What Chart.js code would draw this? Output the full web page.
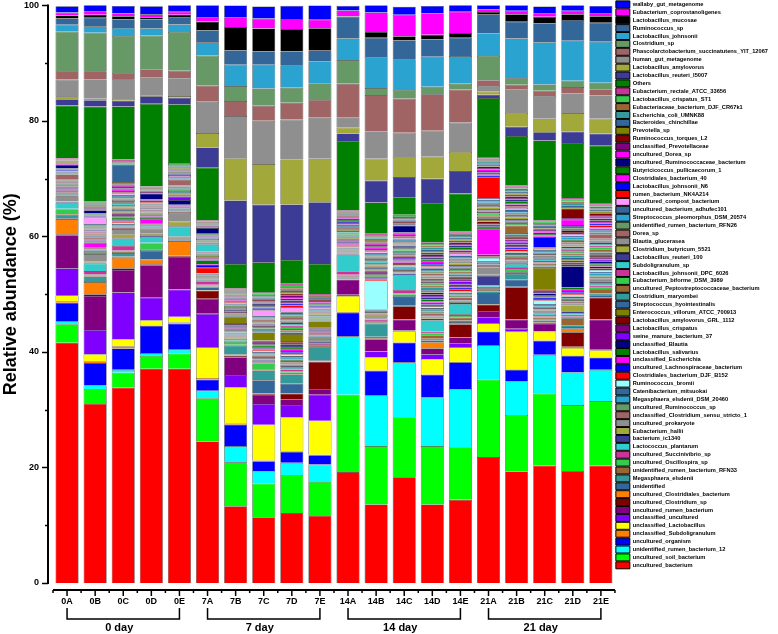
<!DOCTYPE html>
<html>
<head>
<meta charset="utf-8">
<script src="https://cdn.jsdelivr.net/npm/chart.js@4.4.1/dist/chart.umd.min.js"></script>
<style>
  html, body { margin: 0; padding: 0; background: #fff; }
  #wrap { width: 778px; height: 634px; }
</style>
</head>
<body>
<div id="wrap"><canvas id="abundance" width="778" height="634"></canvas></div>
<script>
// samples and groups
const samples = ["0A","0B","0C","0D","0E","7A","7B","7C","7D","7E","14A","14B","14C","14D","14E","21A","21B","21C","21D","21E"];
const dayGroups = ["0 day", "7 day", "14 day", "21 day"];
const yTicks = [0, 20, 40, 60, 80, 100];

// relative abundance (%) per taxon, bottom of the stack first
const uncultured_bacterium = [41.6,31.0,33.8,37.1,37.1,24.5,13.3,11.4,12.1,11.6,19.2,13.6,18.3,13.6,14.4,21.8,19.3,20.3,19.4,20.3];
const uncultured_soil_bacterium = [3.2,2.6,2.6,2.2,2.6,7.5,7.6,5.8,6.6,5.9,13.4,10.1,10.4,10.1,9.1,13.4,9.8,12.5,11.4,11.2];
const unidentified_rumen_bacterium_12 = [0.5,0.6,0.5,0.5,0.7,1.3,2.8,2.2,2.1,3.0,10.1,8.8,9.5,8.4,10.1,6.0,5.8,6.7,5.7,5.4];
const uncultured_organism = [3.2,3.9,3.7,4.7,4.5,1.9,3.7,1.7,1.9,1.6,4.1,4.2,3.4,3.9,4.6,2.3,2.0,2.4,2.8,2.1];
const unclassified_Subdoligranulum = [0.3,0.3,0.4,0.1,0.2,0.3,0.2,0.1,0.1,0.1,0.1,0.1,0.1,0.1,0.1,0.1,0.1,0.1,0.1,0.1];
const unclassified_Lactobacillus = [1.0,1.2,1.2,0.9,1.0,5.3,6.3,6.2,5.9,5.9,2.8,2.3,1.9,2.7,2.5,1.4,6.5,1.5,1.3,1.2];
const unclassified_uncultured = [4.7,4.2,8.1,3.9,4.7,5.8,2.1,3.6,2.1,4.5,0.2,1.0,0.1,0.8,0.7,1.0,0.5,0.1,0.1,0.1];
const uncultured_rumen_bacterium = [5.7,5.9,3.9,5.6,5.7,2.6,3.1,1.6,1.0,1.0,2.6,2.1,1.9,1.0,1.0,1.1,1.6,1.3,0.1,5.2];
const uncultured_Clostridium_sp = [0.2,0.3,0.3,0.2,0.2,1.4,0.2,0.2,1.0,4.7,0.1,0.1,2.3,0.1,2.3,1.1,5.6,0.2,2.5,3.8];
const uncultured_Clostridiales_bacterium = [2.6,2.1,1.8,0.8,2.5,0.1,0.1,0.1,0.1,0.1,0.1,0.1,0.1,1.0,0.1,0.1,0.1,0.1,0.6,0.1];
const unidentified = [0.13,0.17,0.22,1.5,0.16,0.5,0.18,2.2,1.6,0.17,0.17,0.22,1.5,0.30,0.28,1.9,1.2,0.24,0.31,0.30];
const Megasphaera_elsdenii = [0.6,0.8,0.6,0.14,0.16,0.15,1.5,1.7,1.6,2.3,0.17,2.3,0.21,0.30,0.28,0.27,1.0,0.24,0.31,0.30];
const unidentified_rumen_bacterium_RFN33 = [0.13,0.17,0.22,0.14,0.16,0.15,0.18,0.22,0.29,0.17,0.17,0.22,0.21,0.6,0.5,0.27,0.28,0.24,1.2,0.8];
const uncultured_Oscillospira_sp = [0.8,0.17,0.22,1.0,0.16,0.15,0.5,1.0,0.29,0.17,0.17,0.22,0.21,0.30,0.28,0.27,0.6,0.24,0.31,0.30];
const uncultured_Succinivibrio_sp = [0.13,0.6,0.8,0.14,0.16,0.6,0.18,0.22,0.29,0.17,0.6,0.22,0.6,0.30,0.28,0.27,0.28,0.24,0.31,0.30];
const Lactococcus_plantarum = [1.0,1.3,1.3,1.0,1.6,0.15,0.18,0.22,0.29,0.17,2.9,0.22,2.6,2.0,1.8,0.27,0.6,0.24,0.31,0.30];
const bacterium_ic1340 = [0.13,0.17,0.22,0.14,0.16,0.15,0.18,0.22,0.29,0.17,0.17,0.22,0.21,0.30,0.28,1.6,0.28,0.24,0.31,0.30];
const Eubacterium_hallii = [0.13,0.17,0.5,0.4,0.8,0.15,0.18,0.22,0.29,0.17,0.17,0.22,0.21,0.30,0.28,0.27,0.28,0.24,1.0,0.30];
const uncultured_prokaryote = [0.9,1.3,0.9,0.9,1.5,0.15,0.18,0.22,0.29,0.17,0.17,0.22,0.21,0.30,0.28,1.2,0.28,0.24,0.31,0.30];
const unclassified_Clostridium_sensu_stricto_1 = [0.13,0.17,0.22,0.14,0.16,0.15,0.18,0.22,0.29,0.17,0.17,0.22,0.21,0.30,0.28,0.27,0.28,0.24,0.31,0.30];
const uncultured_Ruminococcus_sp = [0.13,0.17,0.22,0.14,0.16,0.15,0.18,0.22,0.29,0.17,0.17,0.22,0.21,0.30,0.28,0.27,0.28,0.24,0.31,0.30];
const Megasphaera_elsdenii_DSM_20460 = [0.13,0.17,0.22,0.14,0.16,0.15,0.18,0.22,0.29,0.17,0.17,0.22,0.21,0.30,0.28,0.27,0.28,0.24,0.31,0.30];
const Catenibacterium_mitsuokai = [0.13,0.17,0.22,0.14,0.16,0.15,0.18,0.22,0.29,0.17,0.17,0.22,0.21,0.30,0.28,0.27,0.28,0.24,0.31,0.30];
const Ruminococcus_bromii = [0.13,0.17,0.22,0.14,0.16,0.15,0.18,0.22,0.29,0.17,0.17,5.0,0.21,0.30,0.28,0.6,0.28,0.6,0.31,0.30];
const Clostridiales_bacterium_DJF_B152 = [0.13,0.17,0.22,0.14,0.16,1.0,0.18,0.22,0.29,0.17,0.17,0.22,0.21,0.30,0.28,0.27,0.28,0.24,0.31,0.30];
const uncultured_Lachnospiraceae_bacterium = [0.13,0.17,0.22,0.14,0.16,0.5,0.18,0.22,0.29,0.17,0.17,0.22,0.21,0.30,0.28,0.27,0.28,0.24,0.31,0.30];
const unclassified_Escherichia = [0.13,0.8,0.22,0.7,0.16,0.15,0.18,0.22,0.29,0.17,0.17,0.22,0.21,0.30,0.28,4.4,0.28,0.24,0.31,0.30];
const Lactobacillus_salivarius = [0.13,0.17,0.22,0.14,0.16,0.6,0.18,0.22,0.29,0.17,0.17,0.22,0.21,0.30,0.28,0.27,0.28,0.24,0.31,0.30];
const unclassified_Blautia = [0.13,0.17,0.22,0.14,0.8,0.15,0.18,0.22,0.29,0.17,0.17,0.22,0.21,0.30,0.28,0.27,0.28,0.24,3.7,0.30];
const swine_manure_bacterium_37 = [0.13,0.17,0.22,0.14,0.6,0.15,0.18,0.22,0.29,0.17,0.17,0.22,0.21,0.30,0.28,0.27,0.28,0.24,0.31,0.30];
const Lactobacillus_crispatus = [0.13,0.17,0.22,0.14,0.16,0.15,0.18,0.22,0.29,0.17,0.17,0.22,0.21,0.30,0.28,0.27,0.28,0.24,0.31,0.30];
const Lactobacillus_amylovorus_GRL_1112 = [0.13,0.17,0.22,0.14,0.16,0.15,0.18,0.22,0.29,0.17,0.17,0.22,0.21,0.30,0.28,0.27,0.28,0.24,0.31,0.30];
const Enterococcus_villorum_ATCC_700913 = [0.13,0.17,0.22,0.14,0.16,0.15,1.0,1.4,1.2,1.0,0.17,0.22,0.21,0.30,0.28,0.27,0.28,3.7,0.31,0.30];
const Streptococcus_hyointestinalis = [0.13,0.17,0.22,0.14,0.16,0.15,0.18,0.22,0.29,0.17,0.17,0.22,0.21,0.30,0.28,0.27,0.28,0.24,0.31,0.30];
const Clostridium_maryombei = [0.13,0.17,0.22,0.14,0.16,0.15,0.18,0.22,0.29,0.17,0.17,0.22,0.21,0.30,0.28,0.27,0.28,0.24,0.31,0.30];
const uncultured_Peptostreptococcaceae_bacterium = [0.13,0.17,0.22,0.14,0.16,0.15,0.18,0.22,0.29,0.17,0.17,0.22,0.21,0.30,0.28,0.27,1.3,0.24,0.31,0.30];
const Eubacterium_biforme_DSM_3989 = [0.13,0.17,0.22,0.14,0.16,0.15,0.18,0.22,0.29,0.17,0.17,0.22,0.21,0.30,0.28,0.27,0.28,0.24,0.31,0.30];
const Lactobacillus_johnsonii_DPC_6026 = [0.13,0.17,0.22,0.14,0.16,0.15,0.18,0.22,0.29,0.17,0.17,0.22,0.21,0.30,0.28,0.27,0.28,0.24,0.31,0.30];
const Subdoligranulum_sp = [0.13,0.17,0.22,0.14,0.16,1.3,0.18,0.22,0.29,0.17,0.17,0.22,0.21,0.30,0.28,0.27,0.28,0.24,0.31,0.30];
const Lactobacillus_reuteri_100 = [0.13,0.17,0.22,0.14,0.16,0.15,0.18,0.22,0.29,0.17,0.17,0.22,0.21,0.30,0.28,0.27,0.28,0.24,0.31,0.30];
const Clostridium_butyricum_5521 = [0.13,0.17,0.22,0.14,0.16,0.15,0.18,0.22,0.29,0.17,0.17,0.22,0.21,0.30,0.28,0.27,0.28,0.24,0.31,0.30];
const Blautia_glucerasea = [0.13,0.17,0.22,0.14,0.16,0.15,0.18,0.22,0.29,0.17,0.17,0.22,0.21,0.30,0.28,0.27,0.28,0.24,0.31,0.30];
const Dorea_sp = [0.8,0.17,0.22,0.14,1.0,0.15,0.18,0.22,0.29,0.17,0.17,0.22,0.21,0.30,0.28,0.27,0.28,0.24,0.31,0.8];
const unidentified_rumen_bacterium_RFN26 = [0.13,0.17,0.22,0.14,0.16,0.15,0.18,0.22,0.29,0.17,0.17,0.22,0.21,0.30,0.28,0.27,0.28,0.24,0.31,0.30];
const Streptococcus_pleomorphus_DSM_20574 = [0.13,0.17,0.22,0.14,0.16,0.15,0.18,0.22,0.29,0.17,0.17,0.22,0.21,0.30,0.28,0.27,0.28,0.24,0.31,0.30];
const uncultured_bacterium_adhufec101 = [0.13,0.17,0.22,0.14,0.16,0.15,0.18,0.22,0.29,0.17,0.17,0.22,0.21,0.30,0.28,0.27,0.28,0.24,0.31,0.30];
const uncultured_compost_bacterium = [0.13,1.1,0.22,0.14,0.16,0.15,0.18,1.0,0.9,0.17,0.17,0.22,0.21,0.30,0.28,0.27,0.28,0.24,0.31,0.30];
const rumen_bacterium_NK4A214 = [0.13,0.17,0.22,0.14,0.16,0.15,0.18,0.22,0.29,0.17,0.17,0.22,0.21,0.30,0.28,3.6,0.28,0.24,0.31,0.30];
const Lactobacillus_johnsonii_N6 = [0.13,0.17,0.22,0.14,0.16,0.15,0.18,0.22,0.29,0.17,0.17,0.22,0.21,0.30,0.28,0.27,0.28,1.8,0.31,0.30];
const Clostridiales_bacterium_40 = [0.13,0.17,0.22,0.14,0.16,0.15,0.18,0.22,0.29,0.17,0.17,0.22,0.21,0.30,0.28,0.27,0.28,0.24,0.31,0.30];
const Butyricicoccus_pullicaecorum_1 = [0.13,0.17,0.22,0.14,0.16,0.15,0.18,0.22,0.29,0.17,0.17,0.22,0.21,0.30,0.28,0.27,0.28,0.24,0.31,0.30];
const uncultured_Ruminococcaceae_bacterium = [0.6,0.6,0.22,1.0,0.16,1.0,0.18,0.22,0.29,0.17,0.17,0.22,1.2,0.30,0.28,0.27,0.28,0.24,0.31,0.30];
const uncultured_Dorea_sp = [0.13,0.17,0.22,0.14,0.16,0.15,0.18,0.22,0.29,0.17,0.17,0.22,0.21,0.30,0.28,0.27,0.28,0.24,0.9,0.30];
const unclassified_Prevotellaceae = [0.13,0.17,0.22,0.14,0.16,0.15,0.18,0.22,0.29,0.17,0.17,0.22,0.21,0.30,0.28,0.27,0.28,0.24,0.31,0.30];
const Ruminococcus_torques_L2 = [0.13,0.17,0.22,0.14,0.16,0.15,0.18,0.22,0.29,0.17,0.17,0.22,0.21,0.30,0.28,0.27,0.28,0.24,1.6,0.30];
const Prevotella_sp = [0.13,0.17,0.22,0.14,0.16,0.15,0.18,0.22,0.29,0.17,0.17,0.22,0.21,0.30,0.28,0.27,0.28,0.24,0.31,0.30];
const Bacteroides_chinchillae = [0.13,0.17,3.0,0.14,0.16,0.15,0.18,0.22,0.29,0.17,0.17,0.22,0.21,0.30,0.28,0.27,0.28,0.24,0.31,0.30];
const Escherichia_coli_UMNK88 = [0.13,0.17,0.22,0.14,0.16,0.15,0.18,0.22,0.29,0.17,0.17,0.22,0.21,0.30,0.28,0.27,0.28,0.24,0.31,0.30];
const Eubacteriaceae_bacterium_DJF_CR67k1 = [0.13,0.17,0.22,0.14,0.16,0.15,0.18,0.22,0.29,0.17,0.17,0.22,0.21,0.30,0.28,0.27,0.28,0.24,0.31,0.30];
const Lactobacillus_crispatus_ST1 = [0.13,0.17,0.22,0.14,0.16,0.15,0.18,0.22,0.29,0.17,0.17,0.22,0.21,0.30,0.28,0.27,0.28,0.24,0.31,0.30];
const Eubacterium_rectale_ATCC_33656 = [0.13,0.17,0.22,0.14,0.16,0.15,0.18,0.22,0.29,0.17,0.17,0.22,0.21,0.30,0.28,0.27,0.28,0.24,0.31,0.30];
const Others = [9.1,16.4,9.2,14.3,10.2,9.1,4.2,5.2,4.1,5.2,12.0,5.4,3.0,6.8,6.5,10.2,8.5,13.8,9.5,9.9];
const Lactobacillus_reuteri_I5007 = [1.1,1.1,1.0,1.3,1.1,3.5,11.0,10.0,9.6,10.7,1.3,3.8,3.5,4.2,3.9,0.6,1.6,1.4,2.0,2.1];
const Lactobacillus_amylovorus = [0.5,0.3,0.3,0.2,0.3,2.5,7.3,7.0,7.8,7.5,1.0,3.8,3.5,3.8,3.3,0.5,2.4,2.4,3.2,2.6];
const human_gut_metagenome = [2.9,3.3,3.4,3.1,3.1,5.4,7.3,7.5,6.9,7.1,1.7,4.7,4.2,4.5,5.1,1.0,4.1,3.9,3.4,4.0];
const Phascolarctobacterium_succinatutens = [1.5,1.4,1.1,1.4,1.3,2.8,2.6,2.6,2.9,3.1,5.9,6.3,5.9,6.3,5.7,1.0,0.8,0.9,1.1,1.1];
const Clostridium_sp = [6.8,6.7,6.4,5.8,6.7,5.2,2.6,3.0,2.6,2.9,4.1,1.2,1.5,1.3,1.0,4.2,1.1,1.1,1.1,1.1];
const Lactobacillus_johnsonii = [1.2,1.1,1.4,1.3,1.3,2.3,3.7,4.1,3.9,3.8,3.8,5.4,5.3,5.2,4.8,3.9,6.9,7.3,6.9,7.1];
const Ruminococcus_sp = [1.1,1.5,1.5,1.5,1.3,2.1,2.5,2.3,2.4,1.9,3.7,3.3,3.3,3.0,3.2,3.3,2.9,3.3,3.6,3.3];
const Lactobacillus_mucosae = [0.5,0.5,0.5,0.4,0.4,1.5,4.0,4.0,3.9,3.8,0.1,1.0,0.7,0.8,0.8,0.4,1.3,1.1,1.0,1.1];
const Eubacterium_coprostanoligenes = [0.5,0.6,0.5,0.5,0.5,0.8,1.7,1.7,1.7,1.5,1.0,3.4,3.7,3.7,3.7,0.5,0.6,0.6,0.6,0.6];
const wallaby_gut_metagenome = [1.1,1.2,1.3,1.4,1.2,2.1,2.1,2.1,2.3,2.5,0.8,1.3,1.4,1.3,1.3,0.7,1.0,1.2,1.0,1.2];

// stack order (bottom -> top): [legend label, values, fill colour]
const stack = [
  ["uncultured_bacterium", uncultured_bacterium, "#ff0000"],
  ["uncultured_soil_bacterium", uncultured_soil_bacterium, "#00ff00"],
  ["unidentified_rumen_bacterium_12", unidentified_rumen_bacterium_12, "#00ffff"],
  ["uncultured_organism", uncultured_organism, "#0000ff"],
  ["unclassified_Subdoligranulum", unclassified_Subdoligranulum, "#ff8000"],
  ["unclassified_Lactobacillus", unclassified_Lactobacillus, "#ffff00"],
  ["unclassified_uncultured", unclassified_uncultured, "#8000ff"],
  ["uncultured_rumen_bacterium", uncultured_rumen_bacterium, "#800080"],
  ["uncultured_Clostridium_sp", uncultured_Clostridium_sp, "#800000"],
  ["uncultured_Clostridiales_bacterium", uncultured_Clostridiales_bacterium, "#ff8000"],
  ["unidentified", unidentified, "#336699"],
  ["Megasphaera_elsdenii", Megasphaera_elsdenii, "#339999"],
  ["unidentified_rumen_bacterium_RFN33", unidentified_rumen_bacterium_RFN33, "#996633"],
  ["uncultured_Oscillospira_sp", uncultured_Oscillospira_sp, "#33cc4c"],
  ["uncultured_Succinivibrio_sp", uncultured_Succinivibrio_sp, "#cc3399"],
  ["Lactococcus_plantarum", Lactococcus_plantarum, "#33cccc"],
  ["bacterium_ic1340", bacterium_ic1340, "#3c3c96"],
  ["Eubacterium_hallii", Eubacterium_hallii, "#a3a83a"],
  ["uncultured_prokaryote", uncultured_prokaryote, "#8f8f8f"],
  ["unclassified_Clostridium_sensu_stricto_1", unclassified_Clostridium_sensu_stricto_1, "#a06464"],
  ["uncultured_Ruminococcus_sp", uncultured_Ruminococcus_sp, "#669966"],
  ["Megasphaera_elsdenii_DSM_20460", Megasphaera_elsdenii_DSM_20460, "#2ba3d1"],
  ["Catenibacterium_mitsuokai", Catenibacterium_mitsuokai, "#336699"],
  ["Ruminococcus_bromii", Ruminococcus_bromii, "#99ffff"],
  ["Clostridiales_bacterium_DJF_B152", Clostridiales_bacterium_DJF_B152, "#ff0000"],
  ["uncultured_Lachnospiraceae_bacterium", uncultured_Lachnospiraceae_bacterium, "#0000ff"],
  ["unclassified_Escherichia", unclassified_Escherichia, "#ff00ff"],
  ["Lactobacillus_salivarius", Lactobacillus_salivarius, "#008000"],
  ["unclassified_Blautia", unclassified_Blautia, "#000080"],
  ["swine_manure_bacterium_37", swine_manure_bacterium_37, "#8000ff"],
  ["Lactobacillus_crispatus", Lactobacillus_crispatus, "#800080"],
  ["Lactobacillus_amylovorus_GRL_1112", Lactobacillus_amylovorus_GRL_1112, "#800000"],
  ["Enterococcus_villorum_ATCC_700913", Enterococcus_villorum_ATCC_700913, "#808000"],
  ["Streptococcus_hyointestinalis", Streptococcus_hyointestinalis, "#336699"],
  ["Clostridium_maryombei", Clostridium_maryombei, "#339999"],
  ["uncultured_Peptostreptococcaceae_bacterium", uncultured_Peptostreptococcaceae_bacterium, "#996633"],
  ["Eubacterium_biforme_DSM_3989", Eubacterium_biforme_DSM_3989, "#33cc4c"],
  ["Lactobacillus_johnsonii_DPC_6026", Lactobacillus_johnsonii_DPC_6026, "#cc3399"],
  ["Subdoligranulum_sp", Subdoligranulum_sp, "#33cccc"],
  ["Lactobacillus_reuteri_100", Lactobacillus_reuteri_100, "#3c3c96"],
  ["Clostridium_butyricum_5521", Clostridium_butyricum_5521, "#a3a83a"],
  ["Blautia_glucerasea", Blautia_glucerasea, "#8f8f8f"],
  ["Dorea_sp", Dorea_sp, "#a06464"],
  ["unidentified_rumen_bacterium_RFN26", unidentified_rumen_bacterium_RFN26, "#669966"],
  ["Streptococcus_pleomorphus_DSM_20574", Streptococcus_pleomorphus_DSM_20574, "#2ba3d1"],
  ["uncultured_bacterium_adhufec101", uncultured_bacterium_adhufec101, "#336699"],
  ["uncultured_compost_bacterium", uncultured_compost_bacterium, "#ff99ff"],
  ["rumen_bacterium_NK4A214", rumen_bacterium_NK4A214, "#ff0000"],
  ["Lactobacillus_johnsonii_N6", Lactobacillus_johnsonii_N6, "#0000ff"],
  ["Clostridiales_bacterium_40", Clostridiales_bacterium_40, "#ff00ff"],
  ["Butyricicoccus_pullicaecorum_1", Butyricicoccus_pullicaecorum_1, "#008000"],
  ["uncultured_Ruminococcaceae_bacterium", uncultured_Ruminococcaceae_bacterium, "#000080"],
  ["uncultured_Dorea_sp", uncultured_Dorea_sp, "#ff00ff"],
  ["unclassified_Prevotellaceae", unclassified_Prevotellaceae, "#800080"],
  ["Ruminococcus_torques_L2", Ruminococcus_torques_L2, "#800000"],
  ["Prevotella_sp", Prevotella_sp, "#808000"],
  ["Bacteroides_chinchillae", Bacteroides_chinchillae, "#336699"],
  ["Escherichia_coli_UMNK88", Escherichia_coli_UMNK88, "#339999"],
  ["Eubacteriaceae_bacterium_DJF_CR67k1", Eubacteriaceae_bacterium_DJF_CR67k1, "#996633"],
  ["Lactobacillus_crispatus_ST1", Lactobacillus_crispatus_ST1, "#33cc4c"],
  ["Eubacterium_rectale_ATCC_33656", Eubacterium_rectale_ATCC_33656, "#cc3399"],
  ["Others", Others, "#008000"],
  ["Lactobacillus_reuteri_I5007", Lactobacillus_reuteri_I5007, "#3c3c96"],
  ["Lactobacillus_amylovorus", Lactobacillus_amylovorus, "#a3a83a"],
  ["human_gut_metagenome", human_gut_metagenome, "#8f8f8f"],
  ["Phascolarctobacterium_succinatutens_YIT_12067", Phascolarctobacterium_succinatutens, "#a06464"],
  ["Clostridium_sp", Clostridium_sp, "#669966"],
  ["Lactobacillus_johnsonii", Lactobacillus_johnsonii, "#2ba3d1"],
  ["Ruminococcus_sp", Ruminococcus_sp, "#336699"],
  ["Lactobacillus_mucosae", Lactobacillus_mucosae, "#000000"],
  ["Eubacterium_coprostanoligenes", Eubacterium_coprostanoligenes, "#ff00ff"],
  ["wallaby_gut_metagenome", wallaby_gut_metagenome, "#0000ff"],
];

const FONT = "'Liberation Sans', Arial, sans-serif";

// axis lines, ticks, day brackets (Origin style, offset axes)
const axisDecor = {
  id: "axisDecor",
  afterDraw(chart) {
    const { ctx, chartArea, scales } = chart;
    const x = scales.x, y = scales.y;
    ctx.save();
    ctx.strokeStyle = "#000";

    // y axis
    const ax = chartArea.left - 5;
    ctx.lineWidth = 2;
    ctx.beginPath();
    ctx.moveTo(ax, y.getPixelForValue(100) - 1);
    ctx.lineTo(ax, y.getPixelForValue(0) + 1);
    ctx.stroke();
    ctx.lineWidth = 1.5;
    for (let v = 0; v <= 100; v += 10) {
      const py = Math.round(y.getPixelForValue(v)) + 0.5;
      const len = yTicks.includes(v) ? 6 : 3;
      ctx.beginPath();
      ctx.moveTo(ax - len, py);
      ctx.lineTo(ax, py);
      ctx.stroke();
    }

    // x axis
    const ay = chartArea.bottom + 7;
    ctx.lineWidth = 2;
    ctx.beginPath();
    ctx.moveTo(chartArea.left, ay);
    ctx.lineTo(chartArea.right, ay);
    ctx.stroke();
    ctx.lineWidth = 1.5;
    const step = x.getPixelForValue(1) - x.getPixelForValue(0);
    samples.forEach((s, i) => {
      const cx = x.getPixelForValue(i);
      ctx.beginPath();
      ctx.moveTo(cx, ay);
      ctx.lineTo(cx, ay + 6);
      ctx.moveTo(cx - step / 2, ay);
      ctx.lineTo(cx - step / 2, ay + 3);
      ctx.stroke();
    });
    ctx.beginPath();
    ctx.moveTo(chartArea.right, ay);
    ctx.lineTo(chartArea.right, ay + 3);
    ctx.stroke();

    // day brackets
    const top = chartArea.bottom + 25, bot = chartArea.bottom + 36;
    ctx.lineWidth = 1.5;
    ctx.fillStyle = "#000";
    ctx.font = "bold 11px " + FONT;
    ctx.textAlign = "center";
    ctx.textBaseline = "middle";
    dayGroups.forEach((g, k) => {
      const x0 = x.getPixelForValue(k * 5);
      const x1 = x.getPixelForValue(k * 5 + 4);
      ctx.beginPath();
      ctx.moveTo(x0, top);
      ctx.lineTo(x0, bot);
      ctx.lineTo(x1, bot);
      ctx.lineTo(x1, top);
      ctx.stroke();
      ctx.fillText(g, (x0 + x1) / 2 - 4, chartArea.bottom + 45);
    });
    ctx.restore();
  }
};

const chart = new Chart(document.getElementById("abundance"), {
  type: "bar",
  data: {
    labels: samples,
    datasets: stack.map(([name, values, color]) => ({
      label: name,
      data: values,
      backgroundColor: color,
      borderColor: "rgba(20,20,20,0.85)",
      borderWidth: 0.6,
      barPercentage: 0.82,
      categoryPercentage: 1,
    })),
  },
  options: {
    responsive: false,
    animation: false,
    events: [],
    layout: { autoPadding: false, padding: { top: 0, right: 0, bottom: 0, left: 0 } },
    plugins: {
      tooltip: { enabled: false },
      legend: {
        position: "right",
        align: "start",
        reverse: true,
        labels: {
          boxWidth: 14,
          boxHeight: 7,
          padding: 0.9,
          color: "#000",
          font: { family: FONT, size: 5.7, weight: "bold" },
          generateLabels(chart) {
            const items = Chart.defaults.plugins.legend.labels.generateLabels(chart);
            items.forEach((it) => { it.lineWidth = 1; it.strokeStyle = "#000"; });
            return items;
          },
        },
      },
    },
    scales: {
      x: {
        stacked: true,
        grid: { display: false, drawTicks: false },
        border: { display: false },
        ticks: { color: "#000", padding: 13, font: { family: FONT, size: 9, weight: "bold" } },
        afterFit(scale) { scale.height = 51; },
      },
      y: {
        stacked: true,
        min: 0,
        max: 100,
        grid: { display: false, drawTicks: true, tickLength: 14 },
        border: { display: false },
        ticks: { stepSize: 20, color: "#000", padding: 0, font: { family: FONT, size: 9, weight: "bold" } },
        title: {
          display: true,
          text: "Relative abundance (%)",
          color: "#000",
          font: { family: FONT, size: 18, weight: "bold" },
          padding: { top: 0, bottom: 0 },
        },
        afterFit(scale) { scale.width = 53; },
      },
    },
  },
  plugins: [axisDecor],
});
</script>
</body>
</html>
